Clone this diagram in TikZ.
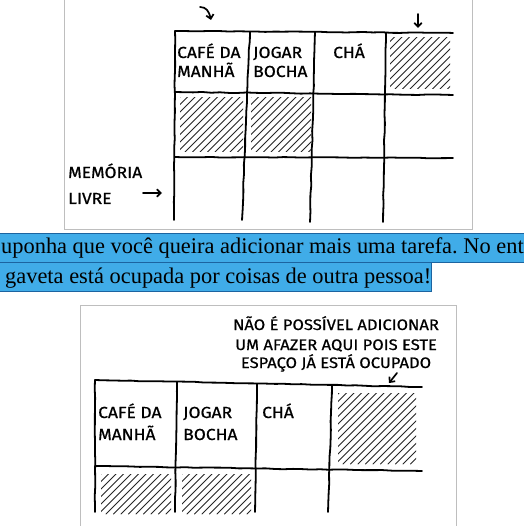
\documentclass[tikz,border=0pt]{standalone}
\usepackage{fontspec}
\setmainfont{Liberation Serif}
\newfontfamily\handfont[FakeStretch=1.09,FakeBold=0.7]{Fira Sans}
\usetikzlibrary{arrows.meta,decorations.pathmorphing}
\definecolor{bandblue}{RGB}{64,172,232}
\definecolor{bandedge}{RGB}{28,100,160}
\definecolor{framegray}{RGB}{190,190,190}
\frenchspacing
\tikzset{
  frameline/.style={draw=framegray,line width=1pt},
  hand/.style={draw=black,line width=1.8pt,line cap=round,line join=round,
    decorate,decoration={random steps,segment length=9pt,amplitude=0.35pt}},
  hatchline/.style={draw=black!85,line width=0.95pt,line cap=round},
  handarrow/.style={draw=black,line width=1.7pt,line cap=round,-{Straight Barb[length=4pt,width=7.5pt,line width=1.7pt]}},
  lbl/.style={inner sep=0pt,anchor=base west,font=\handfont\fontsize{16}{19}\selectfont},
  note/.style={inner sep=0pt,anchor=base,font=\handfont\fontsize{15.2}{18}\selectfont},
  bandtext/.style={inner sep=0pt,anchor=base west,font=\fontsize{22.4}{26}\selectfont}
}
\newcommand\hatchcell[4]{%
  \begin{scope}
    \clip (#1,#2) rectangle (#3,#4);
    \foreach \k in {-100,-92.5,...,100} {
      \draw[hatchline] ({#1+\k},{#4}) -- ++(100,-100);
    }
  \end{scope}}
\begin{document}
\begin{tikzpicture}[x=1pt,y=-1pt]
\pgfmathsetseed{7}
\useasboundingbox (0,0) rectangle (524,526);
\fill[white] (0,0) rectangle (524,526);

% ---------- top picture ----------
\draw[frameline] (64.5,-5) -- (64.5,229) -- (472,229) -- (472,-5);

\coordinate (t00) at (175,31);
\coordinate (t01) at (174,220);
\coordinate (t10) at (250,32);
\coordinate (t11) at (242,220);
\coordinate (t20) at (315,32);
\coordinate (t21) at (310,222);
\coordinate (t30) at (386,33);
\coordinate (t31) at (383,222);
\coordinate (tr0) at (453,33);
\coordinate (tl1) at (175,92);
\coordinate (tr1) at (453,95);
\coordinate (tl2) at (175,157);
\coordinate (tr2) at (453,158);

\draw[hand] (t00) -- (tr0);
\draw[hand] (tl1) -- (tr1);
\draw[hand] (tl2) -- (tr2);
\draw[hand] (t00) -- (t01);
\draw[hand] (t10) -- (247,93) -- (t11);
\draw[hand] (t20) -- (t21);
\draw[hand] (t30) -- (t31);

\hatchcell{390}{38}{450}{89}
\hatchcell{180}{98}{243}{152}
\hatchcell{251}{98}{311}{152}

\node[lbl] (tcafe1) at (177,58) {CAFÉ DA};
\node[lbl] (tcafe2) at (177,77) {MANHÃ};
\node[lbl] (tjog1) at (253,58) {JOGAR};
\node[lbl] (tjog2) at (253,77) {BOCHA};
\node[lbl] (tcha) at (333,58) {CHÁ};
\node[lbl] (tmem1) at (68,178) {MEMÓRIA};
\node[lbl] (tmem2) at (68,204) {LIVRE};

\coordinate (ma0) at (143,193);
\coordinate (ma1) at (162,193);
\draw[handarrow] (ma0) -- (ma1);
\coordinate (ca0) at (200,7);
\coordinate (ca1) at (211,20);
\draw[handarrow] (ca0) .. controls (206,7) and (209,11) .. (ca1);
\coordinate (da0) at (418,14);
\coordinate (da1) at (418,28);
\draw[handarrow] (da0) -- (da1);

% ---------- highlighted text ----------
\fill[bandblue] (0,233) rectangle (524,262);
\draw[bandedge,line width=1pt] (0,233) -- (524,233);
\fill[bandblue] (0,262) rectangle (431,291);
\draw[bandedge,line width=1pt] (0,262) -- (524,262);
\draw[bandedge,line width=1pt] (0,291) -- (431,291) -- (431,262);
\node[bandtext] (line1) at (1,253) {uponha que você queira adicionar mais uma tarefa. No ent};
\node[bandtext] (line2) at (5,283) {gaveta está ocupada por coisas de outra pessoa!};

% ---------- bottom picture ----------
\draw[frameline] (80,531) -- (80,305) -- (456,305) -- (456,531);

\node[note] (n1) at (336,330) {NÃO É POSSÍVEL ADICIONAR};
\node[note] (n2) at (336,350) {UM AFAZER AQUI POIS ESTE};
\node[note] (n3) at (336,368) {ESPAÇO JÁ ESTÁ OCUPADO};

\coordinate (b00) at (95,380);
\coordinate (b01) at (95,512);
\coordinate (b10) at (177,382);
\coordinate (b11) at (175,512);
\coordinate (b20) at (257,384);
\coordinate (b21) at (255,512);
\coordinate (b30) at (332,385);
\coordinate (b31) at (328,512);
\coordinate (br0) at (422,387);
\coordinate (bl1) at (95,466);
\coordinate (br1) at (422,471);

\draw[hand] (b00) -- (br0);
\draw[hand] (bl1) -- (br1);
\draw[hand] (b00) -- (b01);
\draw[hand] (b10) -- (b11);
\draw[hand] (b20) -- (b21);
\draw[hand] (b30) -- (b31);

\hatchcell{338}{393}{416}{464}
\hatchcell{101}{474}{171}{514}
\hatchcell{182}{474}{251}{514}

\node[lbl] (bcafe1) at (98,418) {CAFÉ DA};
\node[lbl] (bcafe2) at (98,440) {MANHÃ};
\node[lbl] (bjog1) at (183,418) {JOGAR};
\node[lbl] (bjog2) at (183,440) {BOCHA};
\node[lbl] (bcha) at (262,418) {CHÁ};

\coordinate (ba0) at (397,373);
\coordinate (ba1) at (389,383);
\draw[handarrow] (ba0) -- (ba1);
\end{tikzpicture}
\end{document}
